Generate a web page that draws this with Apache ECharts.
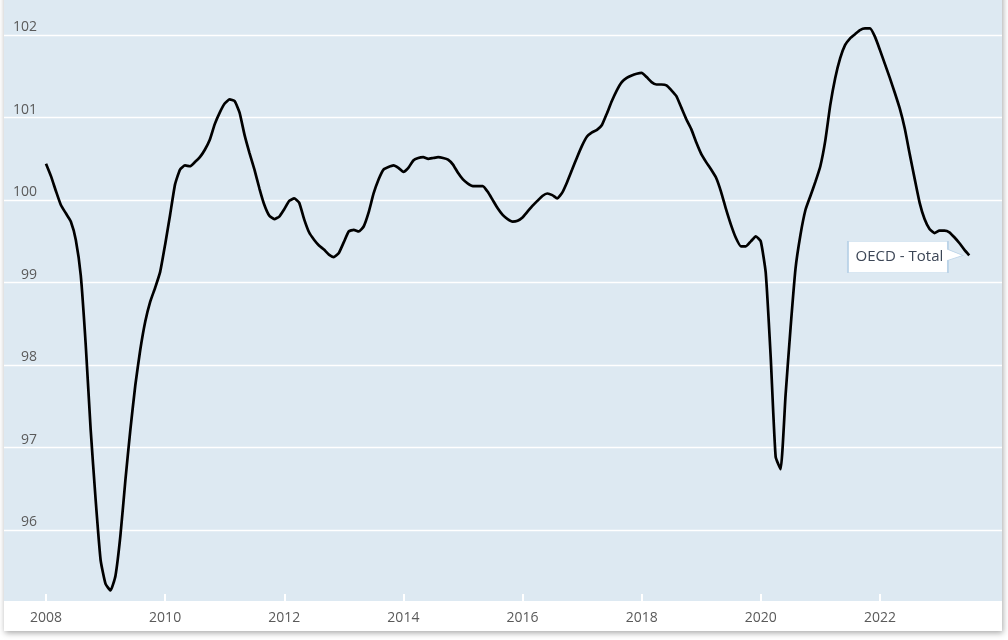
<!DOCTYPE html>
<html>
<head>
<meta charset="utf-8">
<script src="https://cdn.jsdelivr.net/npm/echarts@6/dist/echarts.min.js"></script>
<style>html,body{margin:0;padding:0;background:#fff;}#c{width:1008px;height:640px;}</style>
</head>
<body>
<div id="c"></div>
<script>
// Monthly values, Jan 2008 .. Jul 2023
var startYear = 2008;
var values = [
100.44,100.29,100.11,99.94,99.84,99.74,99.52,99.09,98.25,97.22,96.37,95.64,
95.35,95.27,95.45,95.94,96.61,97.22,97.76,98.19,98.53,98.77,98.94,99.13,
99.46,99.82,100.19,100.37,100.42,100.41,100.46,100.52,100.61,100.73,100.92,101.06,
101.17,101.22,101.20,101.06,100.79,100.57,100.37,100.14,99.94,99.81,99.77,99.80,
99.89,99.99,100.02,99.97,99.77,99.61,99.52,99.45,99.40,99.34,99.31,99.36,
99.49,99.62,99.64,99.62,99.68,99.85,100.08,100.25,100.37,100.40,100.42,100.39,
100.34,100.39,100.48,100.51,100.52,100.50,100.51,100.52,100.51,100.49,100.43,100.33,
100.25,100.20,100.17,100.17,100.17,100.10,100.00,99.90,99.82,99.77,99.74,99.75,
99.79,99.86,99.93,99.99,100.05,100.08,100.06,100.02,100.09,100.22,100.37,100.52,
100.66,100.77,100.82,100.85,100.91,101.05,101.20,101.33,101.43,101.48,101.51,101.53,
101.54,101.49,101.43,101.40,101.40,101.39,101.33,101.26,101.12,100.98,100.86,100.70,
100.56,100.46,100.37,100.27,100.10,99.89,99.70,99.54,99.44,99.44,99.50,99.56,
99.50,99.12,98.10,96.89,96.74,97.64,98.45,99.17,99.58,99.88,100.05,100.22,
100.41,100.72,101.15,101.48,101.72,101.88,101.96,102.01,102.06,102.08,102.08,101.98,
101.82,101.65,101.48,101.30,101.11,100.87,100.56,100.26,99.97,99.77,99.65,99.60,
99.63,99.63,99.61,99.55,99.48,99.40,99.33
];
var tickMonths = [0,24,48,72,96,120,144,168];
var tickLabels = ['2008','2010','2012','2014','2016','2018','2020','2022'];
var seriesName = 'OECD - Total';

var seriesData = values.map(function(v,i){return [i,v];});
var lastIdx = values.length - 1;

var chart = echarts.init(document.getElementById('c'), null, {renderer:'canvas'});
chart.setOption({
  animation:false,
  backgroundColor:'#ffffff',
  graphic:[{
    type:'rect', z:-10, silent:true,
    shape:{x:4,y:-10,width:998,height:641},
    style:{fill:'#ffffff',shadowBlur:6,shadowColor:'rgba(0,0,0,0.35)',shadowOffsetX:1,shadowOffsetY:2}
  }],
  grid:{left:4,right:6,top:0,bottom:39,show:true,backgroundColor:'#dde9f2',borderWidth:0,containLabel:false},
  xAxis:{
    type:'value', min:-8.46, max:192.6,
    axisLine:{show:false},
    splitLine:{show:false},
    axisTick:{show:true,inside:true,length:7,lineStyle:{color:'#ffffff',width:2},customValues:tickMonths},
    axisLabel:{
      customValues:tickMonths, margin:10,
      fontFamily:'Open Sans', fontSize:14, color:'#5a5a5a',
      formatter:function(v){var k=tickMonths.indexOf(Math.round(v));return k>=0?tickLabels[k]:'';}
    }
  },
  yAxis:{
    type:'value', min:95.143, max:102.424, splitNumber:7,
    axisLine:{show:false}, axisTick:{show:false},
    splitLine:{show:true,showMinLine:false,showMaxLine:false,lineStyle:{color:'#ffffff',width:1.3}},
    axisLabel:{
      inside:true, align:'right', verticalAlign:'bottom', margin:33,
      fontFamily:'Open Sans', fontSize:14, color:'#5a5a5a', lineHeight:16,
      formatter:function(v){return Math.abs(v-Math.round(v))<1e-6?String(Math.round(v)):'';}
    }
  },
  series:[{
    name:seriesName, type:'line', data:seriesData, showSymbol:false, smooth:0.15,
    lineStyle:{color:'#000000',width:2.7}, itemStyle:{color:'#000'},
    markPoint:{
      silent:true,
      data:[{coord:[lastIdx, values[lastIdx]]}],
      symbol:'path://M0 0 L100 0 L100 8.3 L115 14.3 L100 19.3 L100 31.5 L0 31.5 Z',
      symbolKeepAspect:false,
      symbolSize:[115,31.5],
      symbolOffset:[-63.8,1.5],
      itemStyle:{color:'#ffffff',borderColor:'#bcd4e8',borderWidth:1},
      label:{show:true,formatter:seriesName,position:'inside',offset:[-6,0],
        fontFamily:'Open Sans',fontSize:15,color:'#3c4656'}
    }
  }]
});
</script>
</body>
</html>
